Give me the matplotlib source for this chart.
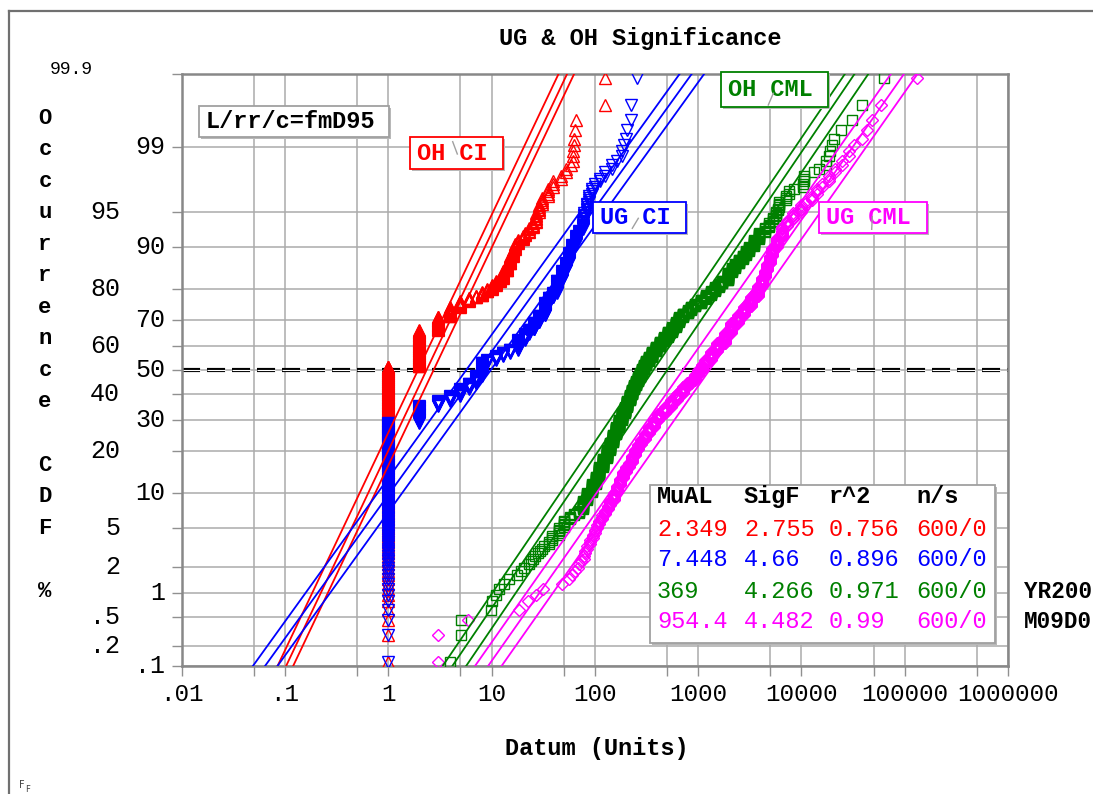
from statistics import NormalDist

import numpy as np
import matplotlib
matplotlib.use("Agg")
import matplotlib.pyplot as plt
import matplotlib.transforms as mtrans
from matplotlib.patches import Rectangle
from matplotlib.lines import Line2D
from matplotlib.ticker import FixedLocator, NullLocator, NullFormatter

W, H = 1093, 794
MONO = ["Liberation Mono", "DejaVu Sans Mono"]
N = 600

# tie groups: datum value, and the last rank (of 600) holding it
oh_ci_val = [1, 2, 3, 4, 5, 6, 7, 8, 9, 10, 11, 12, 13, 14, 15, 16, 17, 18, 20, 21,
             23, 25, 27, 29, 31, 35, 39, 47, 53, 59, 62, 63, 64, 66, 126]
oh_ci_rank = [309, 397, 427, 447, 459, 465, 469, 476, 481, 488, 494, 499, 510, 520, 530, 538, 544, 548, 552, 555,
              559, 563, 570, 575, 579, 583, 586, 588, 590, 591, 594, 596, 597, 598, 600]

ug_ci_val = [1, 2, 3, 4, 5, 6, 7, 8, 9, 11, 13, 15, 18, 21, 23, 26, 29, 33, 36, 39, 43, 48,
             52, 56, 60, 65, 71, 76, 79, 84, 88, 94, 100, 112, 126, 148, 165, 184, 190, 200, 206, 225, 257]
ug_ci_rank = [174, 212, 224, 236, 253, 266, 285, 318, 325, 335, 343, 350, 374, 388, 398, 414, 429, 455, 465, 474,
              495, 510, 521, 534, 543, 552, 557, 565, 570, 576, 580, 583, 585, 587, 589, 591, 592, 594, 595, 596,
              597, 599, 600]

oh_cml_val = [4.0, 5.1, 9.9, 10.1, 11.1, 11.9, 13.3, 14.8, 17.7, 19.4, 20.7, 23, 24.2, 25.4, 26.4, 28.3, 29.6,
              31, 32.3, 36, 38.7, 45, 50.5, 58, 63, 70, 77, 84, 93, 102, 110, 120, 130, 141, 150, 160, 172, 184,
              194, 205, 217, 230, 240, 250, 261, 272, 286, 300, 316, 334, 360, 390, 428, 470, 513, 560, 606, 656,
              720, 790, 860, 931, 1060, 1200, 1320, 1450, 1580, 1711, 1950, 2120, 2290, 2500, 2700, 2900, 3125,
              3500, 3900, 4400, 4880, 5270, 5660, 5870, 6100, 7080, 7620, 8510, 10250, 10640, 13300, 14900,
              17300, 18600, 18900, 19700, 20800, 24400, 30800, 38500, 63400]
oh_cml_rank = [1, 3, 4, 5, 6, 7, 8, 9, 10, 11, 12, 13, 14, 15, 16, 17, 18, 19, 20, 22, 25, 30, 35, 38, 40, 43,
               52, 60, 70, 80, 93, 107, 121, 135, 150, 165, 181, 196, 210, 225, 239, 252, 262, 272, 282, 292,
               303, 313, 323, 333, 346, 358, 370, 381, 393, 404, 415, 426, 434, 441, 448, 454, 462, 470, 477,
               484, 490, 495, 508, 514, 520, 526, 531, 536, 541, 548, 555, 559, 563, 567, 571, 573, 577, 580,
               582, 583, 585, 588, 589, 590, 592, 593, 594, 595, 596, 597, 598, 599, 600]

ug_cml_val = [3.0, 5.9, 18.5, 22.3, 26.9, 31.2, 48, 56.5, 60, 64.6, 68, 71, 73.8, 78, 81, 84.4, 90, 96, 101,
              106, 110, 118, 126, 133, 141, 153, 165, 176, 188, 200, 215, 230, 246, 262, 281, 306, 336, 372,
              411, 475, 550, 630, 718, 785, 858, 925, 1000, 1085, 1172, 1340, 1531, 1800, 2090, 2420, 2790,
              3280, 3820, 4170, 4420, 4670, 4930, 5210, 5830, 6520, 7300, 8320, 9950, 10900, 12600, 14200,
              15900, 18600, 21200, 24800, 29000, 32500, 38800, 43300, 48400, 59000, 132000]
ug_cml_rank = [2, 3, 4, 5, 6, 7, 8, 9, 10, 11, 12, 13, 14, 16, 18, 20, 23, 26, 29, 32, 35, 39, 43, 47, 52,
               60, 68, 77, 86, 93, 100, 111, 122, 131, 140, 152, 165, 180, 195, 210, 226, 242, 258, 267, 275,
               288, 300, 313, 325, 346, 366, 390, 413, 430, 448, 467, 486, 500, 510, 520, 530, 540, 550, 560,
               565, 570, 575, 577, 580, 583, 585, 588, 590, 592, 594, 595, 596, 597, 598, 599, 600]

# fit table
mu_al = [2.349, 7.448, 369, 954.4]
sig_f = [2.755, 4.66, 4.266, 4.482]
mu_txt = ["2.349", "7.448", "369", "954.4"]
sig_txt = ["2.755", "4.66", "4.266", "4.482"]
r2_txt = ["0.756", "0.896", "0.971", "0.99"]
ns_txt = ["600/0", "600/0", "600/0", "600/0"]
# spread of the bound lines around each fit (factor on the median)
band_lo = [1.21, 1.31, 1.24, 1.34]
band_hi = [1.17, 1.32, 1.36, 1.35]

colors = ["#ff0000", "#0000ff", "#008000", "#ff00ff"]
markers = ["^", "v", "s", "D"]
msizes = [8, 8, 7.5, 6.5]

pct_ticks = [0.1, 0.2, 0.5, 1, 2, 5, 10, 20, 30, 40, 50, 60, 70, 80, 90, 95, 99, 99.9]
pct_labels = [".1", ".2", ".5", "1", "2", "5", "10", "20", "30", "40", "50", "60", "70", "80", "90", "95",
              "99", "99.9"]
x_ticks = [0.01, 0.1, 1, 10, 100, 1000, 1e4, 1e5, 1e6]
x_labels = [".01", ".1", "1", "10", "100", "1000", "10000", "100000", "1000000"]
x_minor = [0.05, 0.5, 5, 50, 500, 5e3, 5e4, 5e5]

nd = NormalDist()
_inv = np.vectorize(nd.inv_cdf, otypes=[float])
_cdf = np.vectorize(nd.cdf, otypes=[float])


def to_z(p):
    p = np.clip(np.asarray(p, dtype=float) / 100.0, 1e-12, 1 - 1e-12)
    return _inv(p)


def to_p(z):
    return _cdf(np.asarray(z, dtype=float)) * 100.0


def fx(px):
    return px / W


def fy(py):
    return 1 - py / H


fig = plt.figure(figsize=(W / 100, H / 100), dpi=100)
fig.patch.set_facecolor("white")
ax = fig.add_axes([fx(181.7), fy(666), (1008 - 181.7) / W, (666 - 74) / H])

ax.set_xscale("log")
ax.set_yscale("function", functions=(to_z, to_p))
ax.set_xlim(0.01, 1e6)
ax.set_ylim(0.1, 99.9)

ax.set_xticks(x_ticks, x_labels)
ax.xaxis.set_minor_locator(FixedLocator(x_minor))
ax.xaxis.set_minor_formatter(NullFormatter())
ax.yaxis.set_major_locator(FixedLocator(pct_ticks))
ax.yaxis.set_minor_locator(NullLocator())
ax.tick_params(axis="both", which="both", direction="out", length=7, width=1, color="#909090")
ax.tick_params(axis="y", labelleft=False)
ax.tick_params(axis="x", labelsize=17.5, pad=5)
for lab in ax.get_xticklabels():
    lab.set_fontfamily(MONO)
ax.grid(True, which="both", color="#ababab", lw=1.1)
ax.set_axisbelow(True)
for sp in ax.spines.values():
    sp.set_color("#888888")
    sp.set_linewidth(1.8)

# 50% reference line
plt.rcParams["lines.scale_dashes"] = False
ax.axhline(50, color="black", lw=3.0, dashes=(13, 5), zorder=2)
ax.axhline(50, color="white", lw=0.8, dashes=(13, 5), zorder=2)

# data points, median-rank plotting positions
pos = (np.arange(1, N + 1) - 0.3) / (N + 0.4) * 100
series = [(oh_ci_val, oh_ci_rank), (ug_ci_val, ug_ci_rank),
          (oh_cml_val, oh_cml_rank), (ug_cml_val, ug_cml_rank)]
for (vals, ranks), c, m, ms in zip(series, colors, markers, msizes):
    cnt = np.diff(np.r_[0, ranks])
    xs = np.repeat(vals, cnt)
    ax.plot(xs, pos, ls="none", marker=m, ms=ms, mfc="none", mec=c, mew=1.0, zorder=3)

# fitted lognormal lines with bounds
pl = np.array([0.001, 99.999])
zl = to_z(pl)
for mu, sf, lo, hi, c in zip(mu_al, sig_f, band_lo, band_hi, colors):
    xc = mu * sf ** zl
    for f in (1 / lo, 1.0, hi):
        ax.plot(xc * f, pl, color=c, lw=1.3, zorder=4)

# y tick labels in two staggered columns
ytr = mtrans.blended_transform_factory(fig.transFigure, ax.transData)
inner = {"99", "90", "70", "50", "30", "10", "1", ".1"}
for p, lab in zip(pct_ticks, pct_labels):
    if lab == "99.9":
        fig.text(fx(50), fy(70), lab, ha="left", va="center", fontsize=13, family=MONO)
        continue
    xr = 165 if lab in inner else 120
    ax.text(fx(xr), p, lab, transform=ytr, ha="right", va="center", fontsize=18, family=MONO)

# vertical axis title, one letter per row
for i, ch in enumerate("Occurrence CDF %"):
    if ch != " ":
        fig.text(fx(45), fy(118 + 31.55 * i), ch, ha="center", va="center", fontsize=16,
                 family=MONO, weight="bold")

fig.text(fx(640), fy(38), "UG & OH Significance", ha="center", va="center", fontsize=17,
         family=MONO, weight="bold")
fig.text(fx(597), fy(748), "Datum (Units)", ha="center", va="center", fontsize=17,
         family=MONO, weight="bold")


def box(x0, y0, x1, y1, edge, lw=1.3):
    fig.add_artist(Rectangle((fx(x0 + 2), fy(y1 + 2)), fx(x1 - x0), (y1 - y0) / H,
                             facecolor="#b8b8b8", edgecolor="none", zorder=5))
    fig.add_artist(Rectangle((fx(x0), fy(y1)), fx(x1 - x0), (y1 - y0) / H,
                             facecolor="white", edgecolor=edge, lw=lw, zorder=6))


def leader(xa, ya, xb, yb):
    fig.add_artist(Line2D([fx(xa), fx(xb)], [fy(ya), fy(yb)], color="#a0a0a0", lw=1, zorder=8))


# series tags
tags = [("L/rr/c=fmD95", (199, 106, 389, 137), "black", "#a0a0a0"),
        ("OH CI", (410, 137, 503, 169), colors[0], colors[0]),
        ("UG CI", (593, 202, 686, 233), colors[1], colors[1]),
        ("OH CML", (721, 72, 828, 107), colors[2], colors[2]),
        ("UG CML", (819, 202, 927, 233), colors[3], colors[3])]
for s, (x0, y0, x1, y1), tc, ec in tags:
    box(x0, y0, x1, y1, ec)
    fig.text(fx(x0 + 7), fy((y0 + y1) / 2), s, ha="left", va="center", fontsize=17,
             family=MONO, weight="bold", color=tc, zorder=7)
leader(452.7, 141.7, 457.3, 154)
leader(638.3, 218.3, 632.3, 228.3)
leader(773.3, 93.3, 768.3, 105)
leader(872.3, 216.7, 871.7, 229.3)

# fit table
box(650, 485, 995, 643, "#a0a0a0")
col_x = [657, 744, 829, 916]
for cx, head in zip(col_x, ["MuAL", "SigF", "r^2", "n/s"]):
    fig.text(fx(cx), fy(497), head, ha="left", va="center", fontsize=17, family=MONO,
             weight="bold", zorder=7)
row_y = [529, 559.5, 591, 622]
for ry, c, a, b, r, n in zip(row_y, colors, mu_txt, sig_txt, r2_txt, ns_txt):
    for cx, s in zip(col_x, [a, b, r, n]):
        fig.text(fx(cx), fy(ry), s, ha="left", va="center", fontsize=17, family=MONO,
                 color=c, zorder=7)

fig.text(fx(1024), fy(591), "YR200", ha="left", va="center", fontsize=16.3, family=MONO, weight="bold")
fig.text(fx(1024), fy(622), "M09D0", ha="left", va="center", fontsize=16.3, family=MONO, weight="bold")
fig.text(fx(19), fy(785), "F", ha="left", va="center", fontsize=7, color="#404040")
fig.text(fx(25), fy(789), "F", ha="left", va="center", fontsize=6, color="#404040")

# window border (left and top only)
fig.add_artist(Line2D([fx(9), fx(W)], [fy(11), fy(11)], color="#707070", lw=1.6))
fig.add_artist(Line2D([fx(9), fx(9)], [fy(11), fy(H)], color="#707070", lw=1.6))

fig.savefig("out.png", dpi=100)
